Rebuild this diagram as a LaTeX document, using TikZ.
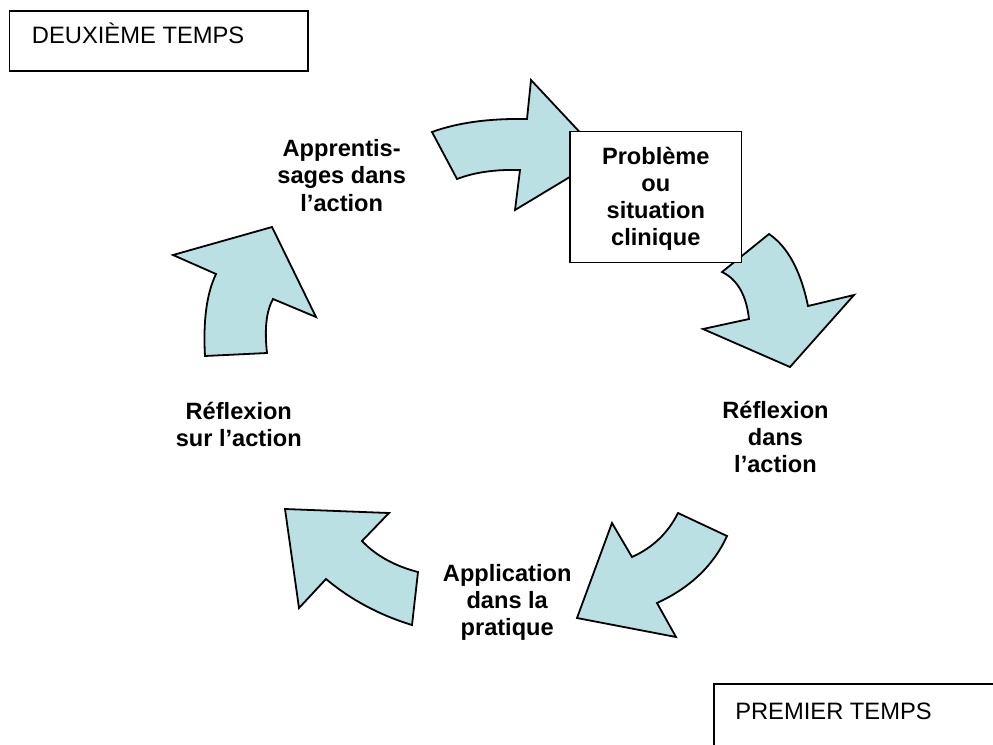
\documentclass[tikz,border=0pt]{standalone}
\usepackage{fontspec}
\setmainfont{Liberation Sans}
\definecolor{arrowfill}{RGB}{187,224,227}
\begin{document}
\begin{tikzpicture}[x=0.75pt,y=-0.75pt,
  cyclearrow/.style={fill=arrowfill, draw=black, line width=1.35pt, line join=miter},
  steplabel/.style={font=\fontsize{17.7}{20.3}\selectfont\bfseries, align=center, inner sep=0pt},
  tempsbox/.style={draw=black, line width=1pt, fill=white},
  tempstext/.style={font=\fontsize{17.8}{20.3}\selectfont, inner sep=0pt, anchor=base west}]
\useasboundingbox (0,0) rectangle (993,744);

% curved cycle arrows
\draw[cyclearrow] (432,132) .. controls (457.3,122.7) and (489,118.3) .. (527,119)
  -- (531,80) -- (603,157) -- (515,210) -- (520,170)
  .. controls (495.3,169.3) and (474.3,172.3) .. (457,179) -- cycle;
\draw[cyclearrow] (769,234) .. controls (787.7,246.7) and (800.7,270.7) .. (808,306)
  -- (854,295) -- (790,367) -- (703,329) -- (749,319)
  .. controls (746.3,295) and (737.3,279.3) .. (722,272) -- cycle;
\draw[cyclearrow] (727,536) .. controls (713.7,565.3) and (690.3,587.7) .. (657,603)
  -- (676,637) -- (577,618) -- (612,523) -- (632,557)
  .. controls (652.7,547.7) and (668,533) .. (678,513) -- cycle;
\draw[cyclearrow] (412,625) .. controls (379.3,615) and (350.7,599.7) .. (326,579)
  -- (299,608) -- (285,509) -- (389,513) -- (362,541)
  .. controls (376,555.7) and (394.7,566) .. (418,572) -- cycle;
\draw[cyclearrow] (205,356) .. controls (203,320.7) and (206.7,293.3) .. (216,274)
  -- (173,255) -- (272,227) -- (316,317) -- (273,299)
  .. controls (266.3,311) and (264.3,329) .. (267,353) -- cycle;

% problem box
\node[tempsbox, inner sep=0pt, minimum width=171.7*0.75pt, minimum height=131*0.75pt]
  (probleme) at (655.8,197.2) {};
\node[steplabel, anchor=base] (problabel) at (655.8,245.5) {Problème\\ou\\situation\\clinique};

% step labels (anchored on the baseline of their last line)
\node[steplabel, anchor=base] (apprent) at (341.7,211) {Apprentis-\\sages dans\\l’action};
\node[steplabel, anchor=base] (refldans) at (775.5,472.5) {Réflexion\\dans\\l’action};
\node[steplabel, anchor=base] (appli) at (507.2,635.5) {Application\\dans la\\pratique};
\node[steplabel, anchor=base] (reflsur) at (238.8,446.7) {Réflexion\\sur l’action};

% phase boxes
\draw[tempsbox] (9.3,11) rectangle (308,71);
\node[tempstext] (deuxieme) at (31.7,43.3) {DEUXIÈME TEMPS};
\draw[tempsbox] (714,684) rectangle (1010,770);
\node[tempstext] (premier) at (735,719.3) {PREMIER TEMPS};
\end{tikzpicture}
\end{document}
